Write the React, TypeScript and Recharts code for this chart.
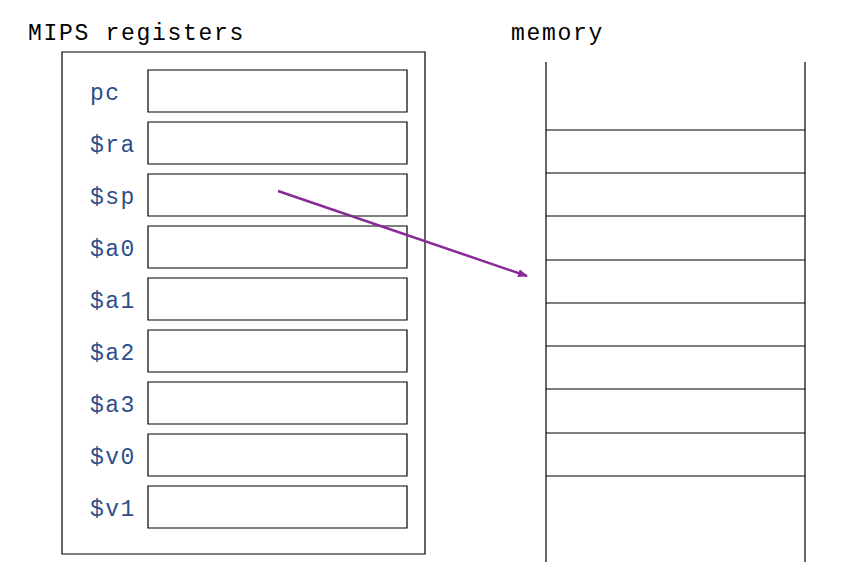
import { ComposedChart, XAxis, YAxis, ReferenceArea, ReferenceLine, ReferenceDot } from 'recharts';

const registers = ['pc', '$ra', '$sp', '$a0', '$a1', '$a2', '$a3', '$v0', '$v1'];
const regTops = [70, 122, 174, 226, 278, 330, 382, 434, 486];
const memoryRows = [130, 173, 216, 260, 303, 346, 389, 433, 476];
const titles = [
  { text: 'MIPS registers', x: 28, y: 40 },
  { text: 'memory', x: 511, y: 40 },
];
const arrow = { from: { x: 278, y: 191 }, to: { x: 527, y: 276 } };

const MONO = '"Liberation Mono", "DejaVu Sans Mono", monospace';
const BLUE = '#2d4f8a';
const PURPLE = '#8a2a98';

export default function App() {
  return (
    <div style={{ margin: -8, width: 854, height: 584, background: '#fff' }}>
      <ComposedChart width={854} height={584} data={[{ x: 0, y: 0 }]} margin={{ top: 0, right: 0, bottom: 0, left: 0 }}>
        <defs>
          <marker id="head" markerWidth="10" markerHeight="8" refX="9" refY="4" orient="auto" markerUnits="userSpaceOnUse">
            <path d="M0,0 L10,4 L0,8 Z" fill={PURPLE} />
          </marker>
        </defs>
        <XAxis type="number" dataKey="x" domain={[0, 854]} hide allowDataOverflow />
        <YAxis type="number" dataKey="y" domain={[0, 584]} reversed hide allowDataOverflow />
        <ReferenceArea x1={62} x2={425} y1={52} y2={554} fill="#fff" fillOpacity={1} stroke="#000" strokeWidth={1.2} ifOverflow="visible" />
        {regTops.map((t, i) => (
          <ReferenceArea key={'r' + i} x1={148} x2={407} y1={t} y2={t + 42} fill="#fff" fillOpacity={1} stroke="#000" strokeWidth={1.2} ifOverflow="visible" />
        ))}
        {registers.map((r, i) => (
          <ReferenceDot
            key={'l' + i}
            x={90}
            y={regTops[i] + 21}
            ifOverflow="visible"
            shape={(p: any) => (
              <text x={p.cx} y={p.cy + 9} fontFamily={MONO} fontSize={23} letterSpacing={1.5} fill={BLUE}>{r}</text>
            )}
          />
        ))}
        {titles.map((t, i) => (
          <ReferenceDot
            key={'t' + i}
            x={t.x}
            y={t.y}
            ifOverflow="visible"
            shape={(p: any) => (
              <text x={p.cx} y={p.cy} fontFamily={MONO} fontSize={23} letterSpacing={1.7} fill="#000">{t.text}</text>
            )}
          />
        ))}
        <ReferenceLine segment={[{ x: 546, y: 62 }, { x: 546, y: 562 }]} stroke="#000" strokeWidth={1.2} ifOverflow="visible" />
        <ReferenceLine segment={[{ x: 805, y: 62 }, { x: 805, y: 562 }]} stroke="#000" strokeWidth={1.2} ifOverflow="visible" />
        {memoryRows.map((y, i) => (
          <ReferenceLine key={'m' + i} segment={[{ x: 546, y }, { x: 805, y }]} stroke="#000" strokeWidth={1.2} ifOverflow="visible" />
        ))}
        <ReferenceLine
          segment={[arrow.from, arrow.to]}
          stroke={PURPLE}
          strokeWidth={2.5}
          ifOverflow="visible"
          shape={(p: any) => (
            <line x1={p.x1} y1={p.y1} x2={p.x2} y2={p.y2} stroke={PURPLE} strokeWidth={2.5} markerEnd="url(#head)" />
          )}
        />
      </ComposedChart>
    </div>
  );
}
